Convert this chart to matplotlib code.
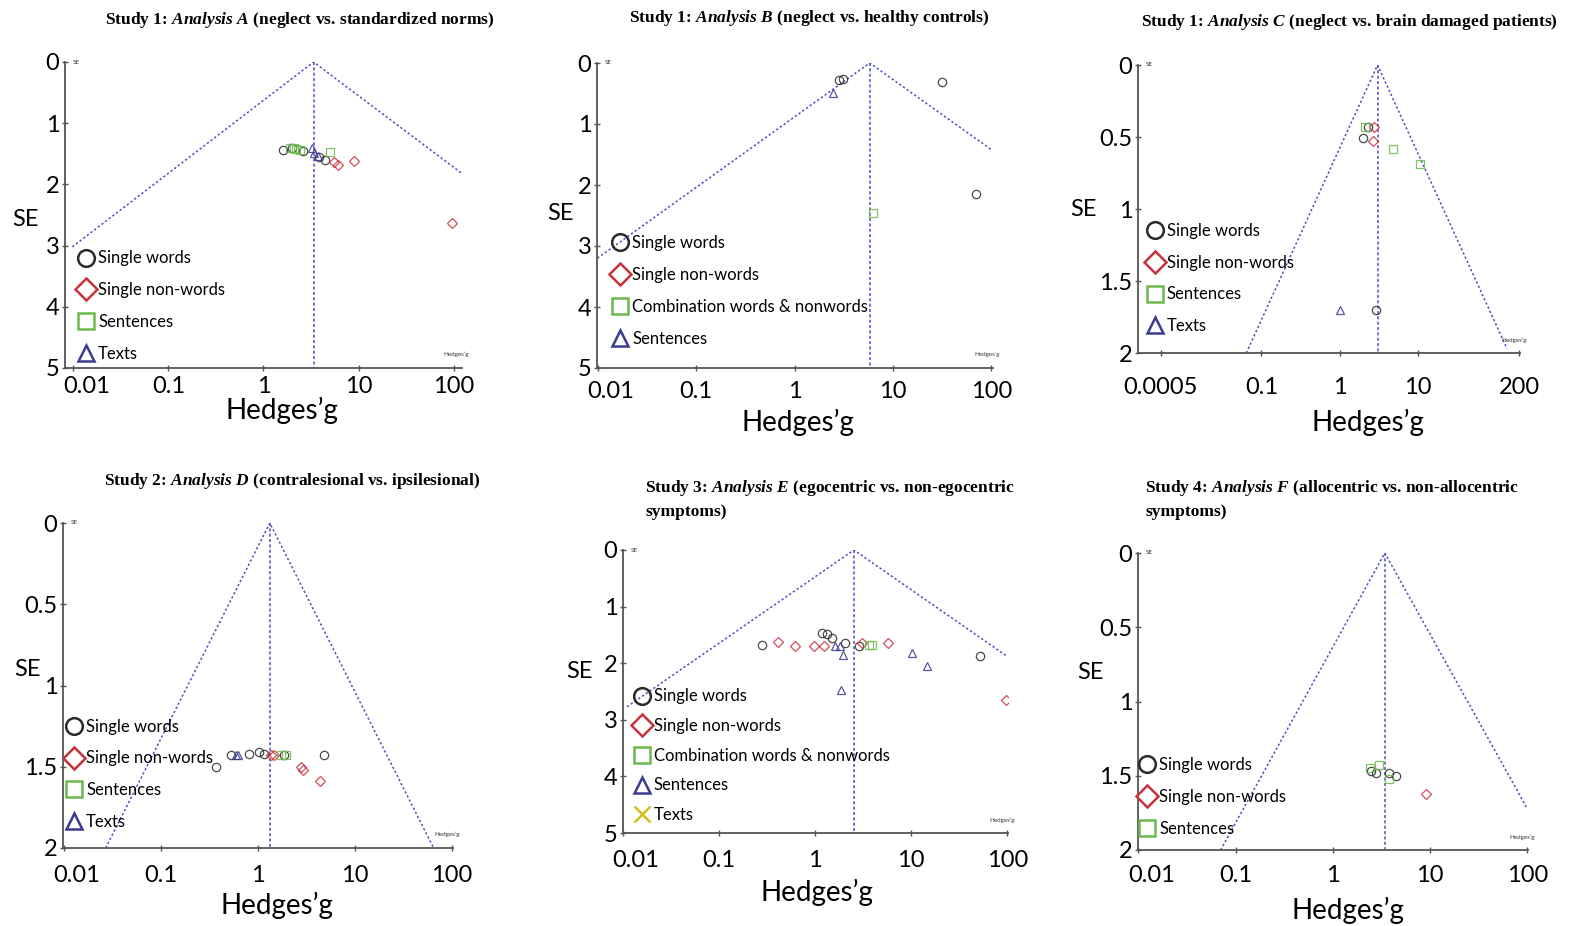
import numpy as np
import matplotlib.pyplot as plt
from matplotlib.lines import Line2D
from matplotlib.transforms import ScaledTranslation

# fonts: sans for axes, bold serif for the panel titles
plt.rcParams['font.family'] = ['Lato', 'DejaVu Sans']
plt.rcParams['mathtext.fontset'] = 'custom'
plt.rcParams['mathtext.rm'] = 'Liberation Serif:bold'
plt.rcParams['mathtext.it'] = 'Liberation Serif:italic:bold'

# marker styles per study type
SW = ('o', '#2a2a2a')      # single words
SNW = ('D', '#c8323c')     # single non-words
GRN = ('s', '#6cb84a')     # sentences / combination
TRI = ('^', '#3b3b92')     # texts / sentences
XX = ('x', '#cfc21c')      # texts (analysis E)

# ---- Analysis A ----
A_POOLED = 3.36
A_LEFT = [0.0098, 3.02]
A_RIGHT = [119, 1.81]
A_SW_G = [1.6, 2.0, 2.6, 3.8, 4.4]
A_SW_SE = [1.43, 1.41, 1.46, 1.56, 1.60]
A_SNW_G = [5.5, 6.0, 8.9, 95]
A_SNW_SE = [1.64, 1.68, 1.61, 2.63]
A_SEN_G = [1.9, 2.1, 2.2, 2.4, 5.0]
A_SEN_SE = [1.40, 1.40, 1.42, 1.44, 1.47]
A_TXT_G = [3.2, 3.4, 3.7]
A_TXT_SE = [1.40, 1.48, 1.53]

# ---- Analysis B ----
B_POOLED = 5.8
B_LEFT = [0.0099, 3.2]
B_RIGHT = [102, 1.43]
B_SW_G = [2.86, 3.07, 31.8, 70]
B_SW_SE = [0.28, 0.26, 0.31, 2.14]
B_COMB_G = [6.2]
B_COMB_SE = [2.46]
B_SEN_G = [2.43]
B_SEN_SE = [0.49]

# ---- Analysis C ----
C_POOLED = 3.07
C_LEFT = [0.045, 2.0]
C_RIGHT = [140, 1.97]
C_SW_G = [2.3, 1.97, 2.9]
C_SW_SE = [0.43, 0.51, 1.70]
C_SNW_G = [2.8, 2.65]
C_SNW_SE = [0.43, 0.53]
C_SEN_G = [2.15, 4.8, 10.6]
C_SEN_SE = [0.43, 0.58, 0.69]
C_TXT_G = [1.0]
C_TXT_SE = [1.70]

# ---- Analysis D ----
D_POOLED = 1.33
D_LEFT = [0.027, 2.0]
D_RIGHT = [65, 2.0]
D_SW_G = [0.37, 0.53, 0.81, 1.02, 1.15, 1.85, 4.8]
D_SW_SE = [1.50, 1.43, 1.42, 1.41, 1.42, 1.43, 1.43]
D_SNW_G = [1.36, 1.47, 2.77, 2.9, 4.4]
D_SNW_SE = [1.43, 1.43, 1.50, 1.52, 1.59]
D_SEN_G = [1.73, 1.95]
D_SEN_SE = [1.43, 1.43]
D_TXT_G = [0.59, 0.62]
D_TXT_SE = [1.43, 1.43]

# ---- Analysis E ----
E_POOLED = 2.54
E_LEFT = [0.011, 2.77]
E_RIGHT = [100, 1.88]
E_SW_G = [0.28, 1.18, 1.33, 1.5, 2.05, 2.86, 52]
E_SW_SE = [1.68, 1.47, 1.48, 1.56, 1.65, 1.70, 1.88]
E_SNW_G = [0.41, 0.62, 0.98, 1.24, 3.07, 5.8, 97]
E_SNW_SE = [1.63, 1.69, 1.70, 1.70, 1.65, 1.65, 2.65]
E_COMB_G = [3.6, 3.9]
E_COMB_SE = [1.68, 1.68]
E_SEN_G = [1.61, 1.81, 1.95, 1.86, 10.3, 14.8]
E_SEN_SE = [1.70, 1.70, 1.85, 2.47, 1.82, 2.05]
E_TXT_G = []
E_TXT_SE = []

# ---- Analysis F ----
F_POOLED = 3.43
F_LEFT = [0.07, 2.0]
F_RIGHT = [100, 1.72]
F_SW_G = [2.5, 2.8, 3.8, 4.5]
F_SW_SE = [1.47, 1.48, 1.48, 1.50]
F_SNW_G = [9.1]
F_SNW_SE = [1.62]
F_SEN_G = [2.4, 3.0, 3.8]
F_SEN_SE = [1.45, 1.43, 1.52]

TICKS_STD = [0.01, 0.1, 1, 10, 100]
TICKS_C = [0.0005, 0.1, 1, 10, 200]
SE5 = [0, 1, 2, 3, 4, 5]
SE2 = [0, 0.5, 1, 1.5, 2]

TITLES = [
    r'Study 1: $\mathit{Analysis\ A}$ (neglect vs. standardized norms)',
    r'Study 1: $\mathit{Analysis\ B}$ (neglect vs. healthy controls)',
    r'Study 1: $\mathit{Analysis\ C}$ (neglect vs. brain damaged patients)',
    r'Study 2: $\mathit{Analysis\ D}$ (contralesional vs. ipsilesional)',
    'Study 3: $\\mathit{Analysis\\ E}$ (egocentric vs. non-egocentric\nsymptoms)',
    'Study 4: $\\mathit{Analysis\\ F}$ (allocentric vs. non-allocentric\nsymptoms)',
]


# axis C in the original squeezes everything below 0.1
def fwd_c(x):
    lx = np.log10(np.clip(x, 1e-12, None))
    return np.where(lx >= -1, lx, -1 + 0.56 * (lx + 1))


def inv_c(y):
    return np.where(y >= -1, 10.0 ** y, 10.0 ** ((y + 1) / 0.56 - 1))


W, H = 1572, 926
fig = plt.figure(figsize=(W / 100, H / 100), dpi=100)


def px_axes(l, r, t, b):
    return fig.add_axes([l / W, 1 - b / H, (r - l) / W, (b - t) / H])


panels = [
    dict(box=(65, 462, 62, 368), pooled=A_POOLED, left=A_LEFT, right=A_RIGHT,
         xlim=(0.0082, 122), xticks=TICKS_STD, yticks=SE5, xpad=3.5,
         series=[(SW, A_SW_G, A_SW_SE, 'Single words'),
                 (SNW, A_SNW_G, A_SNW_SE, 'Single non-words'),
                 (GRN, A_SEN_G, A_SEN_SE, 'Sentences'),
                 (TRI, A_TXT_G, A_TXT_SE, 'Texts')],
         leg=(0.035, 0.02), sp=0.95, xl=(0.547, -0.095), yl=(-0.10, 0.484),
         title=(300, 20, 'center')),
    dict(box=(597, 993, 63, 368), pooled=B_POOLED, left=B_LEFT, right=B_RIGHT,
         xlim=(0.0098, 104), xticks=TICKS_STD, yticks=SE5, xpad=7,
         series=[(SW, B_SW_G, B_SW_SE, 'Single words'),
                 (SNW, [], [], 'Single non-words'),
                 (GRN, B_COMB_G, B_COMB_SE, 'Combination words & nonwords'),
                 (TRI, B_SEN_G, B_SEN_SE, 'Sentences')],
         leg=(0.04, 0.07), sp=0.95, xl=(0.508, -0.134), yl=(-0.093, 0.508),
         title=(809, 18, 'center')),
    dict(box=(1138, 1520, 65, 353), pooled=C_POOLED, left=C_LEFT, right=C_RIGHT,
         xlim=(0.00015, 205), xticks=TICKS_C, yticks=SE2, cscale=True, xpad=15,
         series=[(SW, C_SW_G, C_SW_SE, 'Single words'),
                 (SNW, C_SNW_G, C_SNW_SE, 'Single non-words'),
                 (GRN, C_SEN_G, C_SEN_SE, 'Sentences'),
                 (TRI, C_TXT_G, C_TXT_SE, 'Texts')],
         leg=(0.025, 0.065), sp=0.95, xl=(0.602, -0.194), yl=(-0.144, 0.497),
         title=(1349, 22, 'center')),
    dict(box=(63, 453, 523, 848), pooled=D_POOLED, left=D_LEFT, right=D_RIGHT,
         xlim=(0.0098, 103), xticks=TICKS_STD, yticks=SE2, xpad=10.5,
         series=[(SW, D_SW_G, D_SW_SE, 'Single words'),
                 (SNW, D_SNW_G, D_SNW_SE, 'Single non-words'),
                 (GRN, D_SEN_G, D_SEN_SE, 'Sentences'),
                 (TRI, D_TXT_G, D_TXT_SE, 'Texts')],
         leg=(0.01, 0.055), sp=0.95, xl=(0.549, -0.135), yl=(-0.09, 0.548),
         title=(292, 481, 'center')),
    dict(box=(623, 1008, 550, 833), pooled=E_POOLED, left=E_LEFT, right=E_RIGHT,
         xlim=(0.0105, 102), xticks=TICKS_STD, yticks=SE5, xpad=10,
         series=[(SW, E_SW_G, E_SW_SE, 'Single words'),
                 (SNW, E_SNW_G, E_SNW_SE, 'Single non-words'),
                 (GRN, E_COMB_G, E_COMB_SE, 'Combination words & nonwords'),
                 (TRI, E_SEN_G, E_SEN_SE, 'Sentences'),
                 (XX, E_TXT_G, E_TXT_SE, 'Texts')],
         leg=(0.03, 0.035), sp=0.82, xl=(0.504, -0.163), yl=(-0.112, 0.569),
         title=(645, 478, 'left')),
    dict(box=(1138, 1528, 553, 850), pooled=F_POOLED, left=F_LEFT, right=F_RIGHT,
         xlim=(0.0099, 102), xticks=TICKS_STD, yticks=SE2, xpad=8.5,
         series=[(SW, F_SW_G, F_SW_SE, 'Single words'),
                 (SNW, F_SNW_G, F_SNW_SE, 'Single non-words'),
                 (GRN, F_SEN_G, F_SEN_SE, 'Sentences')],
         leg=(0.005, 0.045), sp=0.95, xl=(0.538, -0.158), yl=(-0.123, 0.596),
         title=(1145, 478, 'left')),
]

FUNNEL = '#4f4fc8'

for p, title in zip(panels, TITLES):
    ax = px_axes(*p['box'])
    if p.get('cscale'):
        ax.set_xscale('function', functions=(fwd_c, inv_c))
    else:
        ax.set_xscale('log')
    ymax = p['yticks'][-1]

    # funnel and pooled estimate
    ax.plot([p['left'][0], p['pooled'], p['right'][0]],
            [p['left'][1], 0, p['right'][1]],
            ls=(0, (1.5, 1.5)), color=FUNNEL, lw=1.1)
    ax.plot([p['pooled'], p['pooled']], [0, ymax],
            ls=(0, (2, 1.5)), color=FUNNEL, lw=1.1)

    handles = []
    for (mk, col), g, se, lab in p['series']:
        ax.plot(g, se, ls='none', marker=mk, ms=6 if mk != 'D' else 5.5,
                mfc='none', mec=col, mew=0.9, alpha=0.85)
        handles.append(Line2D([], [], ls='none', marker=mk, ms=12 if mk != 'D' else 11,
                              mfc='none', mec=col, mew=1.8, label=lab))

    ax.set_xlim(*p['xlim'])
    ax.set_ylim(ymax, 0)
    ax.set_xticks(p['xticks'], [f'{t:g}' for t in p['xticks']])
    ax.set_yticks(p['yticks'], [f'{t:g}' for t in p['yticks']])
    ax.minorticks_off()
    ax.tick_params(labelsize=17, length=4, width=1, direction='inout',
                   color='#555555', pad=2)
    ax.tick_params(axis='x', pad=p['xpad'])
    for s in ('top', 'right'):
        ax.spines[s].set_visible(False)
    for s in ('left', 'bottom'):
        ax.spines[s].set_color('#555555')
        ax.spines[s].set_linewidth(1.3)
    if not p.get('cscale'):
        # first x label sits a bit to the right of its tick in the original
        lab0 = ax.xaxis.get_major_ticks()[0].label1
        lab0.set_transform(lab0.get_transform() + ScaledTranslation(0.13, 0, fig.dpi_scale_trans))

    ax.set_xlabel('Hedges’g', fontsize=20)
    ax.xaxis.set_label_coords(*p['xl'])
    ax.set_ylabel('SE', fontsize=17, rotation=0, va='center', ha='center')
    ax.yaxis.set_label_coords(*p['yl'])

    # tiny axis names the original software prints
    ax.text(0.02, 1.0, 'SE', transform=ax.transAxes, fontsize=4.5,
            va='center', ha='left', color='#333333')
    ax.text(0.985, 0.035, 'Hedges’g', transform=ax.transAxes, fontsize=4.5,
            va='bottom', ha='center', color='#333333')

    ax.legend(handles=handles, loc='lower left', bbox_to_anchor=p['leg'],
              frameon=False, fontsize=12, handlelength=0.9, handletextpad=0.25,
              labelspacing=p['sp'], borderpad=0, borderaxespad=0)

    tx, ty, ha = p['title']
    fig.text(tx / W, 1 - ty / H, title, ha=ha, va='top' if '\n' in title else 'center',
             family='Liberation Serif', weight='bold', fontsize=12.5,
             linespacing=1.5)

fig.savefig('out.png', dpi=100)
